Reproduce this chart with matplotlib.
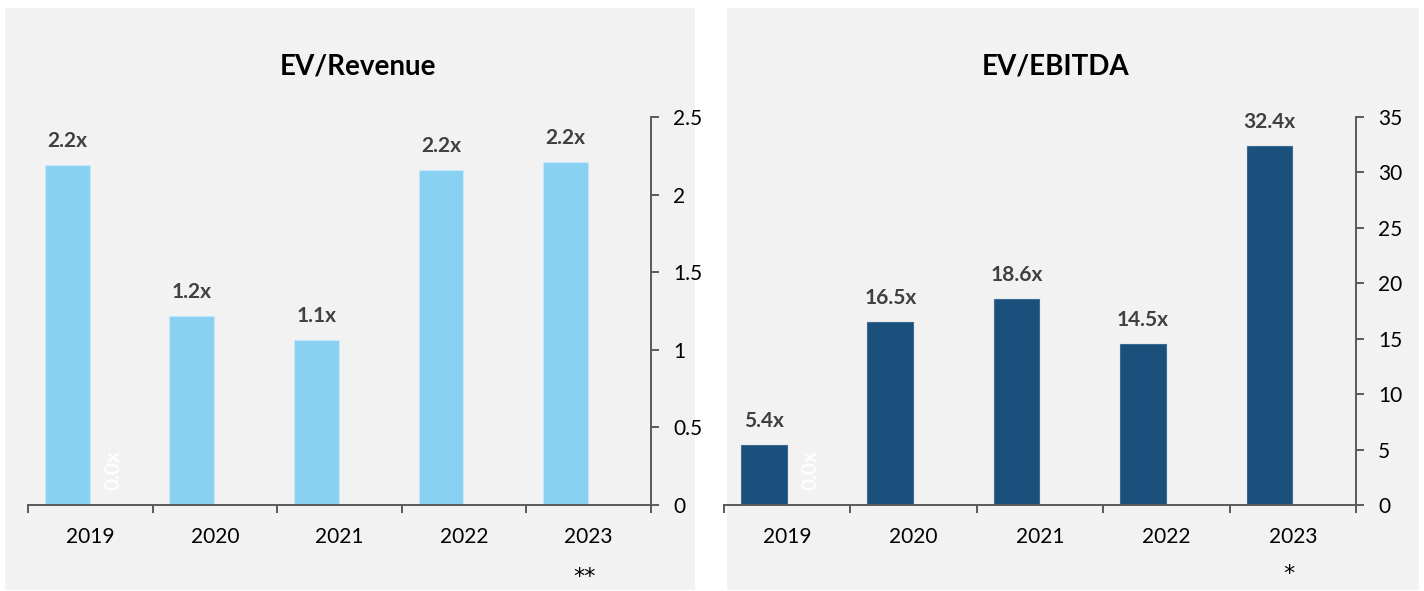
import numpy as np
import matplotlib
matplotlib.use("Agg")
import matplotlib.pyplot as plt
from matplotlib.patches import Rectangle

plt.rcParams['font.family'] = ['Lato', 'DejaVu Sans']

# ---- data ----
years = ["2019", "2020", "2021", "2022", "2023"]

ev_revenue = [2.19, 1.22, 1.06, 2.16, 2.21]
ev_revenue_alt = [0.0, np.nan, np.nan, np.nan, np.nan]
ev_ebitda = [5.4, 16.5, 18.6, 14.5, 32.4]
ev_ebitda_alt = [0.0, np.nan, np.nan, np.nan, np.nan]

rev_ticks = [0, 0.5, 1, 1.5, 2, 2.5]
rev_ticklabels = ["0", "0.5", "1", "1.5", "2", "2.5"]
ebitda_ticks = [0, 5, 10, 15, 20, 25, 30, 35]
ebitda_ticklabels = ["0", "5", "10", "15", "20", "25", "30", "35"]

titles = ["EV/Revenue", "EV/EBITDA"]
footnotes = ["**", "*"]

# ---- style ----
W, H = 1424, 591
PANEL = "#f2f2f2"
AXIS = "#595959"
LABEL = "#404040"
LIGHT = "#89d1f2"
DARK = "#1b4f7c"

fig = plt.figure(figsize=(W / 100, H / 100), dpi=100)
fig.patch.set_facecolor("white")


def fx(px):
    return px / W


def fy(py):
    return 1 - py / H


# panel backgrounds
for x0, x1 in [(5, 695), (727, 1419)]:
    fig.add_artist(Rectangle((fx(x0), fy(590)), fx(x1 - x0), (590 - 8) / H,
                             transform=fig.transFigure, facecolor=PANEL,
                             edgecolor="none", zorder=0))


def draw_panel(rect, main, alt, color, ticks, ticklabels, ymax, title, title_x, note, note_dy):
    ax = fig.add_axes(rect)
    ax.set_facecolor("none")
    x = np.arange(len(years))
    w = 0.36
    off = 0.185
    edge = "#c5e8f8" if color == LIGHT else "#3d6a93"
    bars = ax.bar(x - off, main, width=w, color=color, edgecolor=edge, linewidth=0.8, zorder=2)
    alt_bars = ax.bar(x + off, np.nan_to_num(alt), width=w, color=color, zorder=2)

    for b, v in zip(bars, main):
        ax.annotate(f"{v:.1f}x", (b.get_x() + b.get_width() / 2, v),
                    xytext=(0, 13), textcoords="offset points",
                    ha="center", va="baseline", fontsize=15, fontweight="bold",
                    color=LABEL)
    for b, v in zip(alt_bars, alt):
        if np.isnan(v):
            continue
        ax.annotate(f"{v:.1f}x", (b.get_x() + b.get_width() / 2, v),
                    xytext=(0, 11), textcoords="offset points",
                    ha="center", va="bottom", rotation=90, fontsize=15,
                    fontweight="bold", color="white")

    ax.set_xlim(-0.5, len(years) - 0.5)
    ax.set_ylim(0, ymax)

    for s in ["top", "left"]:
        ax.spines[s].set_visible(False)
    for s in ["bottom", "right"]:
        ax.spines[s].set_color(AXIS)
        ax.spines[s].set_linewidth(1.4)

    ax.yaxis.tick_right()
    ax.set_yticks(ticks)
    ax.set_yticklabels(ticklabels)
    ax.tick_params(axis="y", direction="out", length=6, width=1.4, color=AXIS,
                   labelsize=15, pad=10, labelcolor="black")

    ax.set_xticks(np.arange(-0.5, len(years), 1.0))
    ax.set_xticklabels([])
    ax.set_xticks(x, minor=True)
    ax.set_xticklabels(years, minor=True)
    ax.tick_params(axis="x", which="major", direction="out", length=6, width=1.4, color=AXIS)
    ax.tick_params(axis="x", which="minor", length=0, labelsize=15, pad=16, labelcolor="black")

    ax.annotate(note, (len(years) - 1, 0), xytext=(-3, note_dy), textcoords="offset points",
                ha="center", va="baseline", fontsize=16, color="black",
                family="DejaVu Sans", annotation_clip=False)

    fig.text(fx(title_x), fy(75), title, ha="center", va="baseline",
             fontsize=20, fontweight="bold", color="black")
    return ax


draw_panel([fx(28), fy(505), fx(651 - 28), (505 - 117) / H], ev_revenue, ev_revenue_alt,
           LIGHT, rev_ticks, rev_ticklabels, 2.5, titles[0], 358, footnotes[0], -56)
draw_panel([fx(724), fy(505), fx(1356 - 724), (505 - 117) / H], ev_ebitda, ev_ebitda_alt,
           DARK, ebitda_ticks, ebitda_ticklabels, 35, titles[1], 1056, footnotes[1], -54)

fig.savefig("out.png", dpi=100, facecolor=fig.get_facecolor())
